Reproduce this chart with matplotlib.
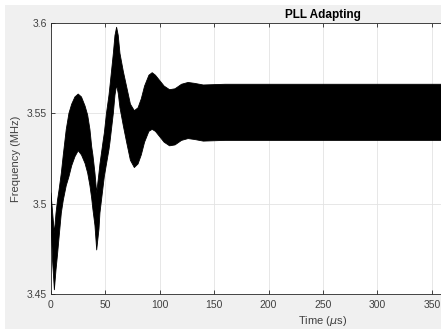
import matplotlib.pyplot as plt
from matplotlib.patches import Rectangle

# envelope of the (dense) frequency oscillation
t_us = [0, 1.5, 3.1, 4.6, 6, 7.5, 9.5, 11.3, 14, 16.5, 19, 22, 25, 28, 31.3, 33.7,
        35.8, 37.4, 38.5, 40.4, 42, 44.1, 45, 48, 49, 51, 53.3, 54.2, 57.3, 58.8,
        60.3, 61.8, 63.4, 66.5, 69.5, 73, 76.6, 80, 83, 86, 90, 93, 96, 100, 104,
        109, 114, 120, 126, 132, 140, 150, 160, 500]
f_upper = [3.506, 3.495, 3.4837, 3.4948, 3.502, 3.508, 3.517, 3.527, 3.541, 3.550,
           3.555, 3.559, 3.5606, 3.559, 3.554, 3.549, 3.541, 3.5315, 3.527, 3.517,
           3.506, 3.517, 3.522, 3.535, 3.539, 3.550, 3.560, 3.565, 3.583, 3.593,
           3.5975, 3.593, 3.583, 3.573, 3.5647, 3.555, 3.5514, 3.553, 3.558, 3.565,
           3.571, 3.5724, 3.571, 3.568, 3.565, 3.563, 3.5635, 3.566, 3.567, 3.5665,
           3.5656, 3.5658, 3.566, 3.566]
f_lower = [3.490, 3.468, 3.4525, 3.4635, 3.472, 3.482, 3.495, 3.502, 3.510, 3.515,
           3.521, 3.526, 3.5293, 3.527, 3.5223, 3.517, 3.510, 3.503, 3.497, 3.488,
           3.4745, 3.486, 3.495, 3.510, 3.515, 3.522, 3.530, 3.534, 3.550, 3.560,
           3.5656, 3.561, 3.553, 3.543, 3.534, 3.524, 3.520, 3.522, 3.527, 3.534,
           3.540, 3.5411, 3.540, 3.537, 3.534, 3.532, 3.5325, 3.535, 3.536, 3.5355,
           3.5346, 3.5348, 3.535, 3.535]

xticks = [0, 50, 100, 150, 200, 250, 300, 350, 400, 450, 500]
# labels past 350 fall outside the (cropped) figure
xtick_labels = ["0", "50", "100", "150", "200", "250", "300", "350", "", "", ""]
yticks = [3.45, 3.5, 3.55, 3.6]
ytick_labels = ["3.45", "3.5", "3.55", "3.6"]

plt.rcParams['font.family'] = ['Liberation Sans', 'DejaVu Sans']

fig = plt.figure(figsize=(4.41, 3.34), dpi=100)
fig.patch.set_facecolor('white')
fig.patches.append(Rectangle((5 / 441, 5 / 334), 1, 1 - 10 / 334, transform=fig.transFigure,
                             facecolor='#f0f0f0', edgecolor='none', zorder=-10))

ax = fig.add_axes([51 / 441, 39.7 / 334, 544 / 441, 271.6 / 334])
ax.set_facecolor('white')

ax.fill_between(t_us, f_lower, f_upper, facecolor='black', edgecolor='black',
                linewidth=0.6, zorder=3)

ax.set_xlim(0, 500)
ax.set_ylim(3.45, 3.6)
ax.set_xticks(xticks)
ax.set_xticklabels(xtick_labels)
ax.set_yticks(yticks)
ax.set_yticklabels(ytick_labels)
ax.grid(True, color='#e3e3e3', linewidth=0.6, zorder=1)
ax.set_axisbelow(True)

ax.tick_params(direction='in', length=3, width=0.6, colors='#262626',
               labelcolor='#404040', labelsize=7.5, top=True, right=True)
ax.tick_params(axis='x', pad=4)
ax.tick_params(axis='y', pad=3)
for s in ax.spines.values():
    s.set_color('#262626')
    s.set_linewidth(0.6)

ax.set_title('PLL Adapting', fontsize=8.5, fontweight='bold', color='black', pad=3.5)
ax.set_xlabel(r'Time ($\mu$s)', fontsize=8, color='#404040', labelpad=3)
ax.set_ylabel('Frequency (MHz)', fontsize=8, color='#404040', labelpad=4)

fig.savefig('out.png', dpi=100)
